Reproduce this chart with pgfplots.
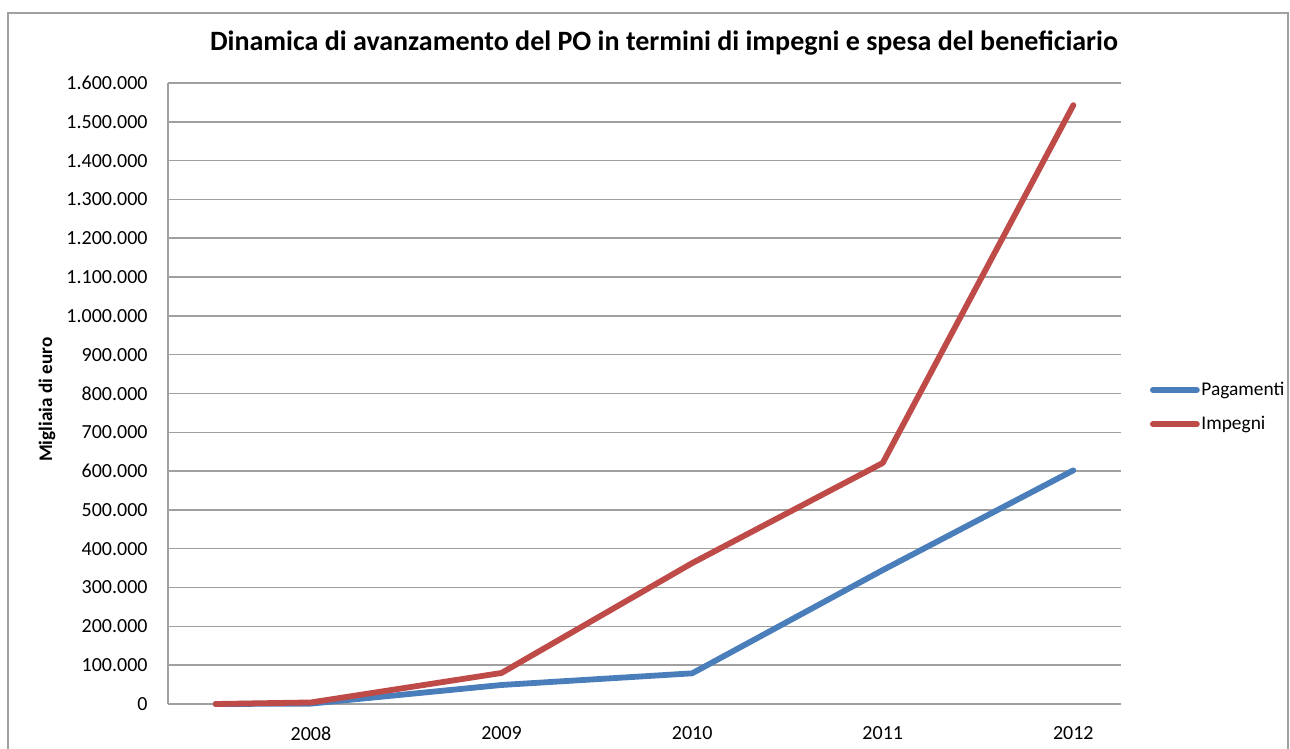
\documentclass[border=0pt]{standalone}
\usepackage{pgfplots}
\pgfplotsset{compat=1.18}
\usepackage{fontspec}
\setmainfont{Carlito}
\definecolor{pblue}{HTML}{4A7EBB}
\definecolor{pred}{HTML}{BE4B48}
\definecolor{gridg}{HTML}{A0A0A0}
\begin{document}
\begin{tikzpicture}
\useasboundingbox (0,0) rectangle (645pt,374.5pt);
\draw[gridg, line width=0.6pt] (4pt,-10pt) rectangle (644pt,368pt);
\begin{axis}[
  at={(84pt,22.5pt)}, anchor=south west,
  scale only axis, width=476.5pt, height=310.5pt,
  xmin=2007.25, xmax=2012.25,
  ymin=0, ymax=1600000,
  xtick={2008,2009,2010,2011,2012},
  xticklabels={2008,2009,2010,2011,2012},
  ytick={0,100000,...,1600000},
  scaled y ticks=false,
  yticklabel style={/pgf/number format/fixed, /pgf/number format/1000 sep={.}, /pgf/number format/assume math mode=true},
  major tick length=0pt,
  axis x line*=bottom, axis y line*=left,
  axis line style={gridg, line width=0.75pt},
  ymajorgrids, grid style={gridg, line width=0.75pt},
  tick label style={font=\fontsize{10}{12}\selectfont, text=black},
  xticklabel style={yshift=-7.8pt},
  yticklabel style={xshift=-6.7pt},
  title={Dinamica di avanzamento del PO in termini di impegni e spesa del beneficiario},
  title style={font=\fontsize{14}{16}\selectfont\bfseries, at={(rel axis cs:0.5205,1)}, anchor=base, yshift=10pt},
  ylabel={Migliaia di euro},
  ylabel style={font=\fontsize{9.6}{11}\selectfont\bfseries, at={(rel axis cs:-0.127,0.49)}, anchor=center},
  legend style={draw=none, fill=none, at={(rel axis cs:1.03,0.478)}, anchor=west,
    font=\fontsize{9.7}{12}\selectfont, row sep=9pt, inner sep=0pt,
    nodes={inner xsep=0.8pt, inner ysep=0pt}},
  legend cell align=left,
  legend image code/.code={\draw[#1, line cap=round] (0pt,0pt) -- (22pt,0pt);},
  clip=false,
]
\addplot[pblue, line width=2.9pt, line cap=round, line join=round] coordinates {
(2007.5,0) (2008,1000) (2009,49000) (2010,79000) (2011,345000) (2012,602000)};
\addlegendentry{Pagamenti}
\addplot[pred, line width=2.9pt, line cap=round, line join=round] coordinates {
(2007.5,0) (2008,4000) (2009,80000) (2010,363000) (2011,621000) (2012,1543000)};
\addlegendentry{Impegni}
\end{axis}
\end{tikzpicture}
\end{document}
